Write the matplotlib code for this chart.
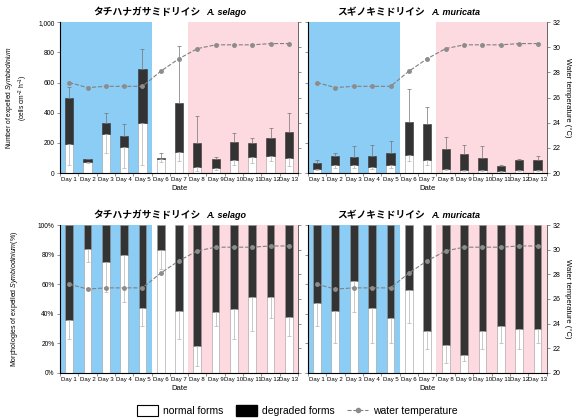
import numpy as np
import matplotlib
matplotlib.use("Agg")
import matplotlib.pyplot as plt
from matplotlib.patches import Patch
from matplotlib.lines import Line2D

plt.rcParams['font.family'] = ['Liberation Sans', 'Noto Sans CJK JP']
plt.rcParams['mathtext.fontset'] = 'custom'
plt.rcParams['mathtext.rm'] = 'Liberation Sans'
plt.rcParams['mathtext.it'] = 'Liberation Sans:italic'

days = ["Day %d" % i for i in range(1, 14)]
water_temp = [27.2, 26.8, 26.9, 26.9, 26.9, 28.1, 29.1, 29.9, 30.2, 30.2, 30.2, 30.3, 30.3]

# expelled cells (cells cm-2 h-1): normal part, total, upper error of total, lower error of normal
selago_normal = [190, 75, 260, 175, 330, 90, 140, 40, 35, 85, 105, 110, 100]
selago_total = [495, 90, 335, 245, 690, 100, 465, 200, 90, 205, 200, 230, 275]
selago_err_up = [75, 5, 60, 80, 130, 35, 375, 180, 15, 60, 30, 70, 120]
selago_err_dn = [135, 10, 125, 140, 275, 20, 60, 25, 15, 30, 40, 30, 50]

muricata_normal = [29, 51, 51, 40, 51, 121, 84, 29, 18, 18, 11, 22, 22]
muricata_total = [68, 114, 108, 116, 134, 336, 323, 158, 125, 99, 44, 86, 88]
muricata_err_up = [16, 20, 74, 71, 79, 224, 117, 84, 64, 77, 7, 6, 22]
muricata_err_dn = [10, 20, 20, 15, 20, 40, 30, 10, 5, 5, 3, 8, 8]

# morphology (%): normal forms and lower error
selago_pct = [36, 84, 75, 80, 44, 83, 42, 18, 41, 43, 51, 51, 38]
selago_pct_err = [13, 9, 20, 32, 12, 13, 19, 13, 9, 20, 23, 14, 13]
muricata_pct = [47, 42, 62, 44, 37, 56, 28, 19, 12, 28, 32, 30, 30]
muricata_pct_err = [15, 22, 21, 24, 17, 22, 12, 12, 4, 12, 12, 14, 10]

names_jp = ["タチハナガサミドリイシ", "スギノキミドリイシ"]
names_sp = ["A. selago", "A. muricata"]

blue = '#8ccdf5'
pink = '#fddadf'
dark = '#333333'
x = np.arange(1, 14)


def shade(ax):
    ax.axvspan(0.5, 5.5, color=blue, zorder=0, lw=0)
    ax.axvspan(7.5, 13.5, color=pink, zorder=0, lw=0)


def style_axes(ax, ymax):
    ax.set_xlim(0.5, 13.5)
    ax.set_ylim(0, ymax)
    ax.set_xticks(x)
    ax.set_xticklabels(days, fontsize=4.3)
    ax.set_xticks(np.arange(0.5, 14, 1), minor=True)
    ax.tick_params(axis='x', which='major', length=0, pad=3)
    ax.tick_params(axis='x', which='minor', length=2, width=0.5, color='0.4')
    ax.tick_params(axis='y', length=2, width=0.5, color='0.4', labelsize=4.8, pad=2)
    ax.spines['top'].set_visible(False)
    for s in ['left', 'bottom', 'right']:
        ax.spines[s].set_color('0.4')
        ax.spines[s].set_linewidth(0.6)
    ax.set_xlabel("Date", fontsize=5.5, labelpad=2)


def temp_axis(ax, show):
    tw = ax.twinx()
    tw.plot(x, water_temp, ls='--', color='0.5', lw=0.8, marker='o', ms=2.5,
            mfc='0.55', mec='0.55', zorder=5)
    tw.set_ylim(20, 32)
    tw.set_yticks(range(20, 33, 2))
    tw.tick_params(axis='y', length=2, width=0.5, color='0.4', labelsize=5, pad=2)
    tw.spines['top'].set_visible(False)
    tw.spines['right'].set_color('0.4')
    tw.spines['right'].set_linewidth(0.6)
    if show:
        tw.set_ylabel("Water temperature (°C)", fontsize=5.5, rotation=-90, labelpad=8)
    else:
        tw.set_yticklabels([])
    return tw


def add_title(ax, i, xj):
    ax.text(xj, 1.035, names_jp[i], transform=ax.transAxes, ha='right', va='bottom',
            fontsize=7, fontweight='bold', family=['Noto Sans CJK JP'])
    ax.text(xj + 0.025, 1.035, names_sp[i], transform=ax.transAxes, ha='left', va='bottom',
            fontsize=6.5, fontweight='bold', style='italic', family=['Liberation Sans'])


fig = plt.figure(figsize=(5.72, 4.19), dpi=100)
ax_tl = fig.add_axes([0.105, 0.587, 0.416, 0.360])
ax_tr = fig.add_axes([0.538, 0.587, 0.418, 0.360])
ax_bl = fig.add_axes([0.105, 0.110, 0.416, 0.353])
ax_br = fig.add_axes([0.538, 0.110, 0.418, 0.353])

w = 0.45
top_sets = [(ax_tl, selago_normal, selago_total, selago_err_up, selago_err_dn),
            (ax_tr, muricata_normal, muricata_total, muricata_err_up, muricata_err_dn)]
for i, (ax, nrm, tot, eu, ed) in enumerate(top_sets):
    shade(ax)
    nrm = np.array(nrm)
    tot = np.array(tot)
    ax.bar(x, nrm, w, color='white', edgecolor='0.6', lw=0.4, zorder=2)
    ax.bar(x, tot - nrm, w, bottom=nrm, color=dark, edgecolor=dark, lw=0.4, zorder=2)
    ax.errorbar(x, tot, yerr=[np.zeros(13), eu], fmt='none', ecolor='0.45',
                elinewidth=0.5, capsize=1.2, capthick=0.5, zorder=3)
    ax.errorbar(x, nrm, yerr=[ed, np.zeros(13)], fmt='none', ecolor='0.7',
                elinewidth=0.5, capsize=1.2, capthick=0.5, zorder=3)
    style_axes(ax, 1000)
    ax.set_yticks(range(0, 1001, 200))
    if i == 0:
        ax.set_yticklabels(['0', '200', '400', '600', '800', '1,000'])
    else:
        ax.set_yticklabels([])
    temp_axis(ax, i == 1)

# two-line y label for the cell counts, one text per line
fig.text(0.016, 0.767, "Number of expelled $\\it{Symbiodinium}$", rotation=90,
         ha='center', va='center', fontsize=4.8)
fig.text(0.040, 0.767, "(cells cm$^{-2}$ h$^{-1}$)", rotation=90,
         ha='center', va='center', fontsize=4.8)

add_title(ax_tl, 0, 0.59)
add_title(ax_tr, 1, 0.49)

bot_sets = [(ax_bl, selago_pct, selago_pct_err), (ax_br, muricata_pct, muricata_pct_err)]
for i, (ax, pct, perr) in enumerate(bot_sets):
    shade(ax)
    pct = np.array(pct)
    ax.bar(x, pct, 0.42, color='white', edgecolor='0.6', lw=0.4, zorder=2)
    ax.bar(x, 100 - pct, 0.42, bottom=pct, color=dark, edgecolor='0.6', lw=0.4, zorder=2)
    ax.errorbar(x, pct, yerr=[perr, np.zeros(13)], fmt='none', ecolor='0.7',
                elinewidth=0.5, capsize=1.2, capthick=0.5, zorder=3)
    style_axes(ax, 100)
    ax.set_yticks(range(0, 101, 20))
    if i == 0:
        ax.set_yticklabels(["%d%%" % v for v in range(0, 101, 20)])
        ax.set_ylabel("Morphologies of expelled $\\it{Symbiodinium}$(%)", fontsize=5)
        ax.yaxis.set_label_coords(-0.17, 0.5)
    else:
        ax.set_yticklabels([])
    temp_axis(ax, i == 1)

add_title(ax_bl, 0, 0.59)
add_title(ax_br, 1, 0.49)

handles = [Patch(facecolor='white', edgecolor='black', lw=0.8, label='normal forms'),
           Patch(facecolor='black', edgecolor='black', label='degraded forms'),
           Line2D([], [], ls='--', color='0.5', lw=0.8, marker='o', ms=3, mfc='0.55',
                  mec='0.55', label='water temperature')]
fig.legend(handles=handles, loc='center', bbox_to_anchor=(0.52, 0.02), ncol=3,
           frameon=False, fontsize=7.5, handlelength=2.0, handleheight=1.2,
           columnspacing=1.2, handletextpad=0.5)

fig.savefig("out.png", dpi=100)
